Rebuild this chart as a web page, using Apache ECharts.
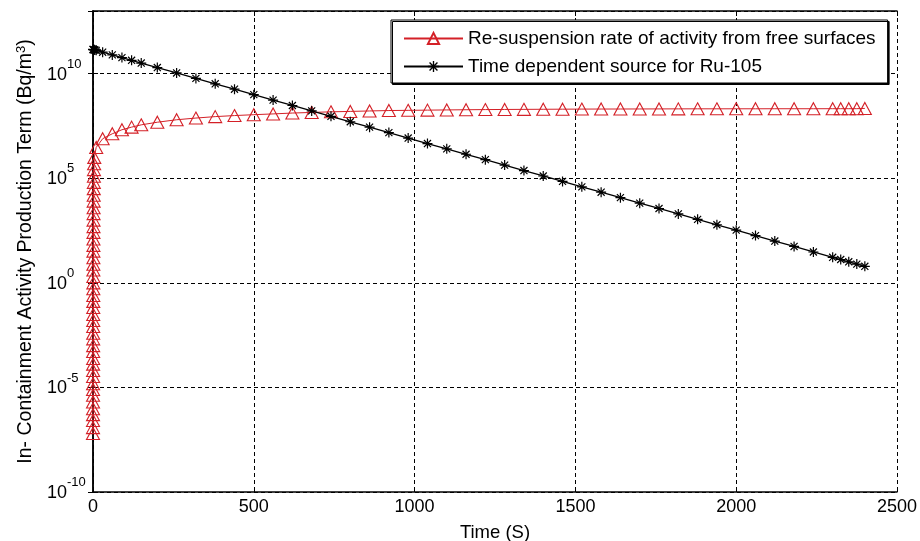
<!DOCTYPE html>
<html><head><meta charset="utf-8">
<script src="https://cdn.jsdelivr.net/npm/echarts@6/dist/echarts.min.js"></script>
<style>html,body{margin:0;padding:0;background:#fff}#c{width:920px;height:541px}</style>
</head><body><div id="c"></div><script>
// ---- data ----
const xTicks = [0, 500, 1000, 1500, 2000, 2500];
const yTickExponents = [-10, -5, 0, 5, 10];
const redName = 'Re-suspension rate of activity from free surfaces';
const blackName = 'Time dependent source for Ru-105';

const redTime = [
  0, 0.02, 0.05, 0.08, 0.1, 0.13, 0.16, 0.2, 0.25, 0.3, 0.35, 0.4, 0.45, 0.5, 0.55,
  0.6, 0.65, 0.7, 0.75, 0.8, 0.85, 0.9, 0.95, 1.0, 1.05, 1.1, 1.15, 1.2, 1.25, 1.3,
  1.35, 1.4, 1.5, 1.6, 1.7, 1.8, 1.9, 2.0, 2.2, 2.4, 2.6, 2.8, 3.0, 3.5, 4.0,
  10, 30, 60, 90, 120, 150,
  200, 260, 320, 380, 440, 500, 560, 620, 680, 740,
  800, 860, 920, 980, 1040, 1100, 1160, 1220, 1280, 1340,
  1400, 1460, 1520, 1580, 1640, 1700, 1760, 1820, 1880, 1940,
  2000, 2060, 2120, 2180, 2240, 2300, 2325, 2350, 2375, 2400
];
const redValue = [
  6.3e-8, 1.2e-7, 2.6e-7, 5.0e-7, 9.5e-7, 2.0e-6, 4.2e-6, 8.0e-6, 1.5e-5, 3.3e-5,
  6.5e-5, 1.3e-4, 2.4e-4, 5.2e-4, 1.0e-3, 2.1e-3, 3.9e-3, 8.2e-3, 1.6e-2, 3.1e-2,
  6.6e-2, 0.13, 0.25, 0.52, 1.0, 2.0, 4.1, 7.8, 16, 33,
  62, 125, 260, 490, 1000, 2050, 3900, 8100, 1.55e4, 3.2e4,
  6.4e4, 1.25e5, 2.6e5, 5.0e5, 1.0e6,
  3.0e6, 7.8e6, 1.35e7, 2.1e7, 2.8e7, 3.6e7,
  4.8e7, 6.3e7, 7.6e7, 8.9e7, 1.0e8, 1.1e8, 1.2e8, 1.32e8, 1.41e8, 1.51e8,
  1.58e8, 1.66e8, 1.74e8, 1.78e8, 1.82e8, 1.86e8, 1.9e8, 1.93e8, 1.96e8, 1.98e8,
  2.0e8, 2.02e8, 2.04e8, 2.05e8, 2.06e8, 2.07e8, 2.08e8, 2.09e8, 2.1e8, 2.1e8,
  2.11e8, 2.11e8, 2.12e8, 2.12e8, 2.12e8, 2.13e8, 2.13e8, 2.13e8, 2.13e8, 2.2e8
];

const blackTime = [
  0, 1, 2, 4, 6,
  10, 30, 60, 90, 120, 150,
  200, 260, 320, 380, 440, 500, 560, 620, 680, 740,
  800, 860, 920, 980, 1040, 1100, 1160, 1220, 1280, 1340,
  1400, 1460, 1520, 1580, 1640, 1700, 1760, 1820, 1880, 1940,
  2000, 2060, 2120, 2180, 2240, 2300, 2325, 2350, 2375, 2400
];
const blackValue = [
  1.45e11, 1.43e11, 1.42e11, 1.39e11, 1.36e11,
  1.31e11, 1.07e11, 7.96e10, 5.9e10, 4.39e10, 3.25e10,
  1.98e10, 1.09e10, 6.0e9, 3.3e9, 1.82e9, 1.0e9, 5.5e8, 3.03e8, 1.67e8, 9.2e7,
  5.06e7, 2.79e7, 1.53e7, 8.4e6, 4.6e6, 2.56e6, 1.41e6, 7.8e5, 4.27e5, 2.35e5,
  1.29e5, 7.1e4, 3.9e4, 2.16e4, 1.19e4, 6.5e3, 3.6e3, 1.99e3, 1.09e3, 601,
  331, 182, 100, 55, 30, 16.7, 13.1, 10.2, 7.9, 6.2
];

// ---- chart ----
const FONT = "'Liberation Sans', Arial, Helvetica, sans-serif";
const RED = '#d42027';
const asterisk = 'path://M8.8 0L11.2 0L11.2 20L8.8 20Z M0 8.8L20 8.8L20 11.2L0 11.2Z M2.1 3.8L3.8 2.1L17.9 16.2L16.2 17.9Z M16.2 2.1L17.9 3.8L3.8 17.9L2.1 16.2Z';

const gridLine = { show: true, lineStyle: { color: '#000', type: [4, 3], width: 1 } };
const axisLineStyle = { show: true, lineStyle: { color: '#000', width: 1.5 } };
const tickStyle = { show: true, inside: true, length: 5, lineStyle: { color: '#000', width: 1 } };

const chart = echarts.init(document.getElementById('c'), null, { renderer: 'canvas' });
chart.setOption({
  animation: false,
  backgroundColor: '#fff',
  textStyle: { fontFamily: FONT },
  grid: { left: 93, right: 23, top: 11, bottom: 49, containLabel: false, outerBoundsMode: 'none' },
  legend: {
    orient: 'vertical',
    left: 391, top: 20,
    padding: [9, 12, 7, 12],
    itemWidth: 59, itemHeight: 14, itemGap: 9,
    backgroundColor: '#fff',
    borderColor: '#000', borderWidth: 1,
    shadowColor: '#000', shadowBlur: 0, shadowOffsetX: 1.5, shadowOffsetY: 1.5,
    textStyle: { fontSize: 19, color: '#000', fontFamily: FONT },
    data: [redName, blackName]
  },
  xAxis: [{
    type: 'value', min: 0, max: 2500, interval: 500,
    name: 'Time (S)', nameLocation: 'middle', nameGap: 31,
    nameTextStyle: { fontSize: 18.5, color: '#000', fontFamily: FONT },
    axisLine: axisLineStyle, axisTick: tickStyle, splitLine: gridLine,
    axisLabel: { fontSize: 18, color: '#000', margin: 6, fontFamily: FONT,
      formatter: v => xTicks.includes(v) ? String(v) : '' }
  }, {
    type: 'value', position: 'top', min: 0, max: 2500, interval: 500,
    axisLine: axisLineStyle, axisTick: tickStyle, splitLine: { show: false },
    axisLabel: { show: false }
  }],
  yAxis: [{
    type: 'log', logBase: 10, min: 1e-10, max: 1e13, interval: 5,
    name: 'In- Containment Activity Production Term (Bq/m{s|3})',
    nameLocation: 'middle', nameGap: 51, nameRotate: 90,
    nameTextStyle: { fontSize: 19.5, color: '#000', fontFamily: FONT,
      rich: { s: { fontSize: 13, fontFamily: FONT, color: '#000', padding: [0, 0, 10, 0], verticalAlign: 'bottom' } } },
    axisLine: axisLineStyle, axisTick: tickStyle, splitLine: gridLine,
    axisLabel: {
      align: 'left', margin: 46, color: '#000',
      formatter: v => {
        const e = Math.round(Math.log10(v));
        if (!yTickExponents.includes(e)) return '';
        return '{b|10}{s|' + e + '}';
      },
      rich: {
        b: { fontSize: 18, fontFamily: FONT, color: '#000', lineHeight: 20, verticalAlign: 'bottom' },
        s: { fontSize: 13, fontFamily: FONT, color: '#000', lineHeight: 12, padding: [0, 0, 13, 0], verticalAlign: 'bottom' }
      }
    }
  }, {
    type: 'log', logBase: 10, position: 'right', min: 1e-10, max: 1e13, interval: 5,
    axisLine: axisLineStyle, axisTick: tickStyle, splitLine: { show: false },
    axisLabel: { show: false }
  }],
  series: [{
    name: redName, type: 'line', clip: false,
    data: redTime.map((t, i) => [t, redValue[i]]),
    symbol: 'triangle', symbolSize: [13, 12],
    lineStyle: { color: RED, width: 1 },
    itemStyle: { color: 'rgba(0,0,0,0)', borderColor: RED, borderWidth: 1.1 },
    z: 2
  }, {
    name: blackName, type: 'line', clip: false,
    data: blackTime.map((t, i) => [t, blackValue[i]]),
    symbol: asterisk, symbolSize: 10,
    lineStyle: { color: '#000', width: 1.3 },
    itemStyle: { color: '#000' },
    z: 3
  }]
});
</script></body></html>
